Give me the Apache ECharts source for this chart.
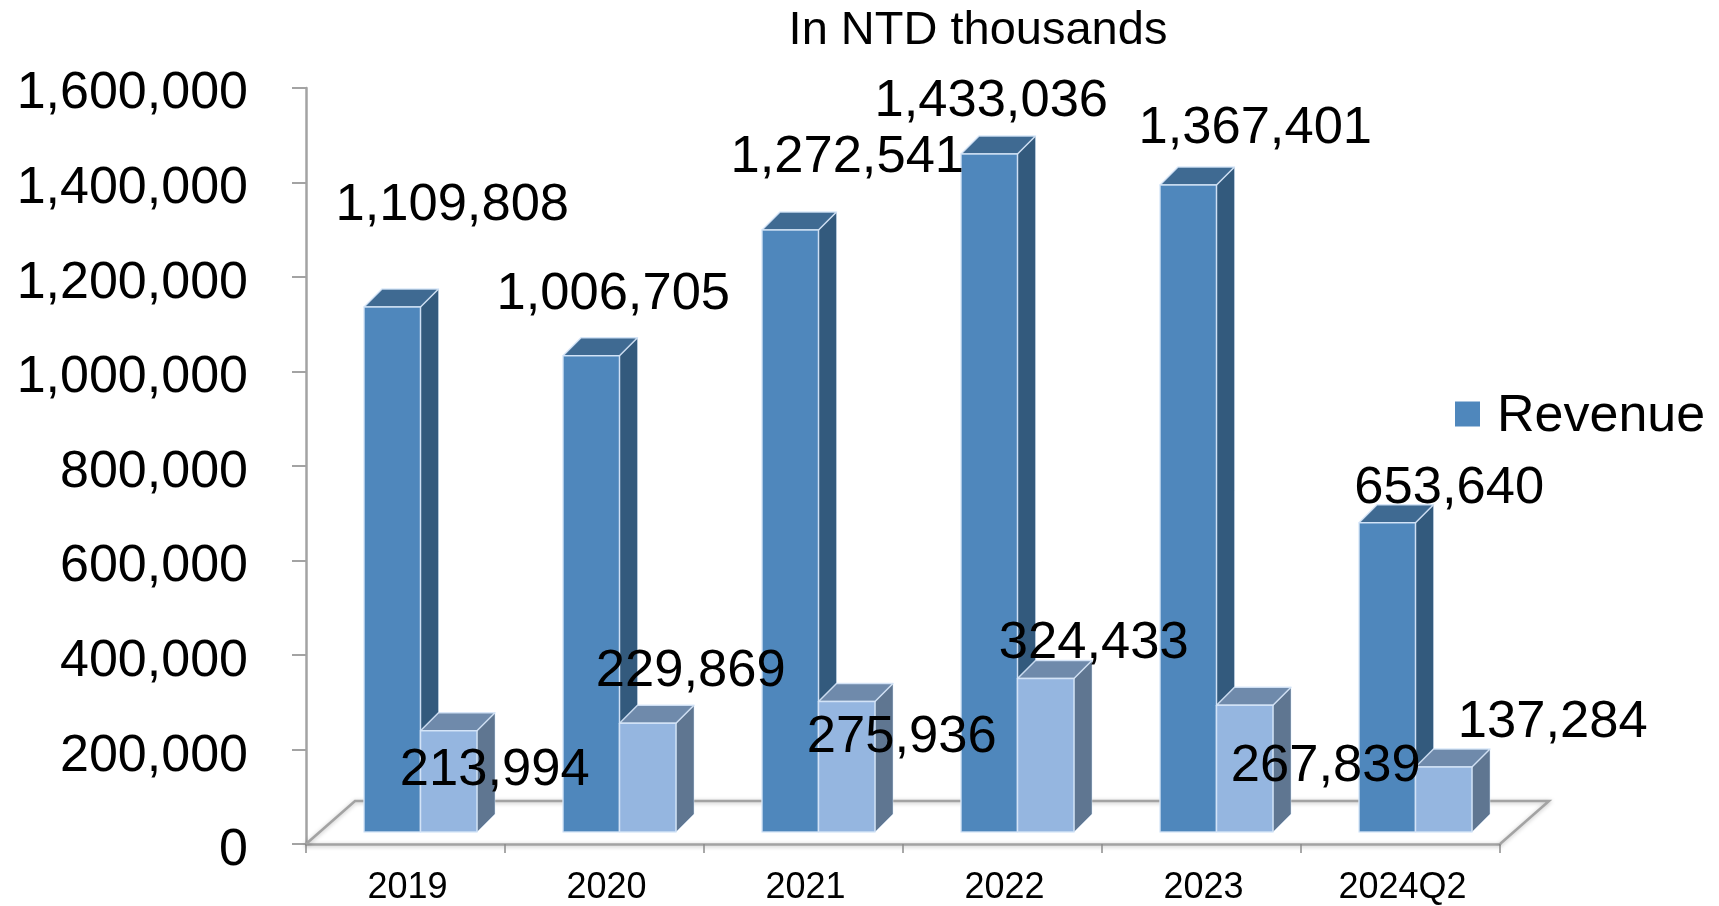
<!DOCTYPE html>
<html><head><meta charset="utf-8">
<style>html,body{margin:0;padding:0;background:#fff}#c{width:1719px;height:906px}</style>
<script src="https://cdn.jsdelivr.net/npm/echarts@6/dist/echarts.min.js"></script>
</head><body><div id="c"></div>
<script>
const categories = ['2019','2020','2021','2022','2023','2024Q2'];
const revenue = [1109808,1006705,1272541,1433036,1367401,653640];
const secondSeries = [213994,229869,275936,324433,267839,137284];
const yTicks = [0,200000,400000,600000,800000,1000000,1200000,1400000,1600000];

// label placement relative to the top-centre of each bar (pixels)
const revenueLabelShift = [[60,-101],[22,-61],[57,-72],[2,-52],[67,-57],[62,-34]];
const secondLabelShift = [[46,40],[43,-52],[55,36],[48,-35],[81,61],[109,-45]];

const FONT = '"Liberation Sans", Arial, sans-serif';
const DEPTH = 18, BAR_W = 56.5;
const EDGE = 'rgba(214,230,248,0.9)';

function fmt(v){ return v.toString().replace(/\B(?=(\d{3})+(?!\d))/g, ','); }

function barRenderer(side, colors, shifts){
  return function(params, api){
    const i = api.value(0), v = api.value(1);
    const top = api.coord([i, v]), base = api.coord([i, 0]);
    const x0 = side < 0 ? top[0] - BAR_W : top[0];
    const x1 = x0 + BAR_W;
    const ty = top[1], by = base[1];
    const stroke = {stroke: EDGE, lineWidth: 1.5, lineJoin: 'round'};
    return {type:'group', children:[
      {type:'polygon', shape:{points:[[x1,ty],[x1+DEPTH,ty-DEPTH],[x1+DEPTH,by-DEPTH],[x1,by]]},
        style:{fill:colors.side, stroke:'rgba(214,230,248,0.45)', lineWidth:1}},
      {type:'polygon', shape:{points:[[x0,ty],[x0+DEPTH,ty-DEPTH],[x1+DEPTH,ty-DEPTH],[x1,ty]]},
        style:Object.assign({fill:colors.top}, stroke)},
      {type:'rect', shape:{x:x0,y:ty,width:BAR_W,height:by-ty},
        style:Object.assign({fill:colors.front}, stroke)},
      {type:'text', z2:50, style:{
        text:fmt(v), x:(x0+x1)/2+shifts[i][0], y:ty+shifts[i][1],
        align:'center', verticalAlign:'middle', fill:'#000',
        font:'52.5px '+FONT}}
    ]};
  };
}

function floorRenderer(params){
  const g = params.coordSys;
  const dx = 49, dy = 43;
  const xa = g.x, xb = g.x + g.width, y = g.y + g.height;
  return {type:'polyline', shape:{points:[[xa,y],[xa+dx,y-dy],[xb+dx,y-dy],[xb,y]]},
    style:{fill:null, stroke:'#A3A3A3', lineWidth:2.5, shadowBlur:4, shadowColor:'rgba(0,0,0,0.25)', shadowOffsetY:1}};
}

const chart = echarts.init(document.getElementById('c'), null, {renderer:'canvas', width:1719, height:906});
chart.setOption({
  animation:false,
  backgroundColor:'#fff',
  title:{text:'In NTD thousands', left:973, top:3, textAlign:'center',
    textStyle:{fontFamily:FONT, fontSize:47, fontWeight:'normal', color:'#000'}},
  legend:{data:['Revenue'], left:1450, top:386, itemWidth:25, itemHeight:25, itemGap:0, icon:'rect',
    selectedMode:false, formatter:'{a|{name}}',
    textStyle:{fontFamily:FONT, fontSize:52, color:'#000',
      rich:{a:{fontFamily:FONT, fontSize:52, color:'#000', padding:[6,0,0,12]}}}},
  grid:[
    {left:306, top:88, width:1194, height:757},
    {left:321, top:75, width:1194, height:757},
    {left:306, top:94, width:1194, height:757}
  ],
  xAxis:[
    {gridIndex:0, type:'category', data:categories, boundaryGap:true,
      axisLine:{lineStyle:{color:'#A3A3A3', width:2.5, shadowBlur:4, shadowColor:'rgba(0,0,0,0.25)', shadowOffsetY:1}},
      axisTick:{show:true, length:9, alignWithLabel:false, lineStyle:{color:'#8C8C8C', width:1.5}},
      axisLabel:{fontFamily:FONT, fontSize:36, color:'#000', margin:26, interval:0, padding:[0,0,0,4]}},
    {gridIndex:1, type:'category', data:categories, show:false},
    {gridIndex:2, type:'category', data:categories, show:false}
  ],
  yAxis:[
    {gridIndex:0, type:'value', min:0, max:1600000, interval:200000,
      axisLine:{show:true, lineStyle:{color:'#A3A3A3', width:2.5}},
      axisTick:{show:true, length:14, lineStyle:{color:'#A3A3A3', width:2}},
      splitLine:{show:false}, axisLabel:{show:false}},
    {gridIndex:1, type:'value', min:0, max:1600000, interval:200000, show:false, splitLine:{show:false}},
    {gridIndex:2, type:'value', min:0, max:1600000, interval:200000,
      axisLine:{show:false}, axisTick:{show:false}, splitLine:{show:false},
      axisLabel:{fontFamily:FONT, fontSize:52, color:'#000', margin:58,
        customValues:yTicks, formatter:v=>fmt(v)}}
  ],
  series:[
    {type:'custom', name:'floor', xAxisIndex:0, yAxisIndex:0, z:1, silent:true,
      data:[[0,0]], encode:{x:0,y:1}, renderItem:floorRenderer},
    {type:'custom', name:'Revenue', xAxisIndex:1, yAxisIndex:1, z:3,
      itemStyle:{color:'#4F87BC'},
      data:revenue.map((v,i)=>[i,v]), encode:{x:0,y:1},
      renderItem:barRenderer(-1,{front:'#4F87BC',side:'#335A7D',top:'#3F6A92'},revenueLabelShift)},
    {type:'custom', name:'Net Income', xAxisIndex:1, yAxisIndex:1, z:4,
      itemStyle:{color:'#95B6E0'},
      data:secondSeries.map((v,i)=>[i,v]), encode:{x:0,y:1},
      renderItem:barRenderer(1,{front:'#95B6E0',side:'#5F7691',top:'#6F8AAB'},secondLabelShift)}
  ]
});
</script></body></html>
